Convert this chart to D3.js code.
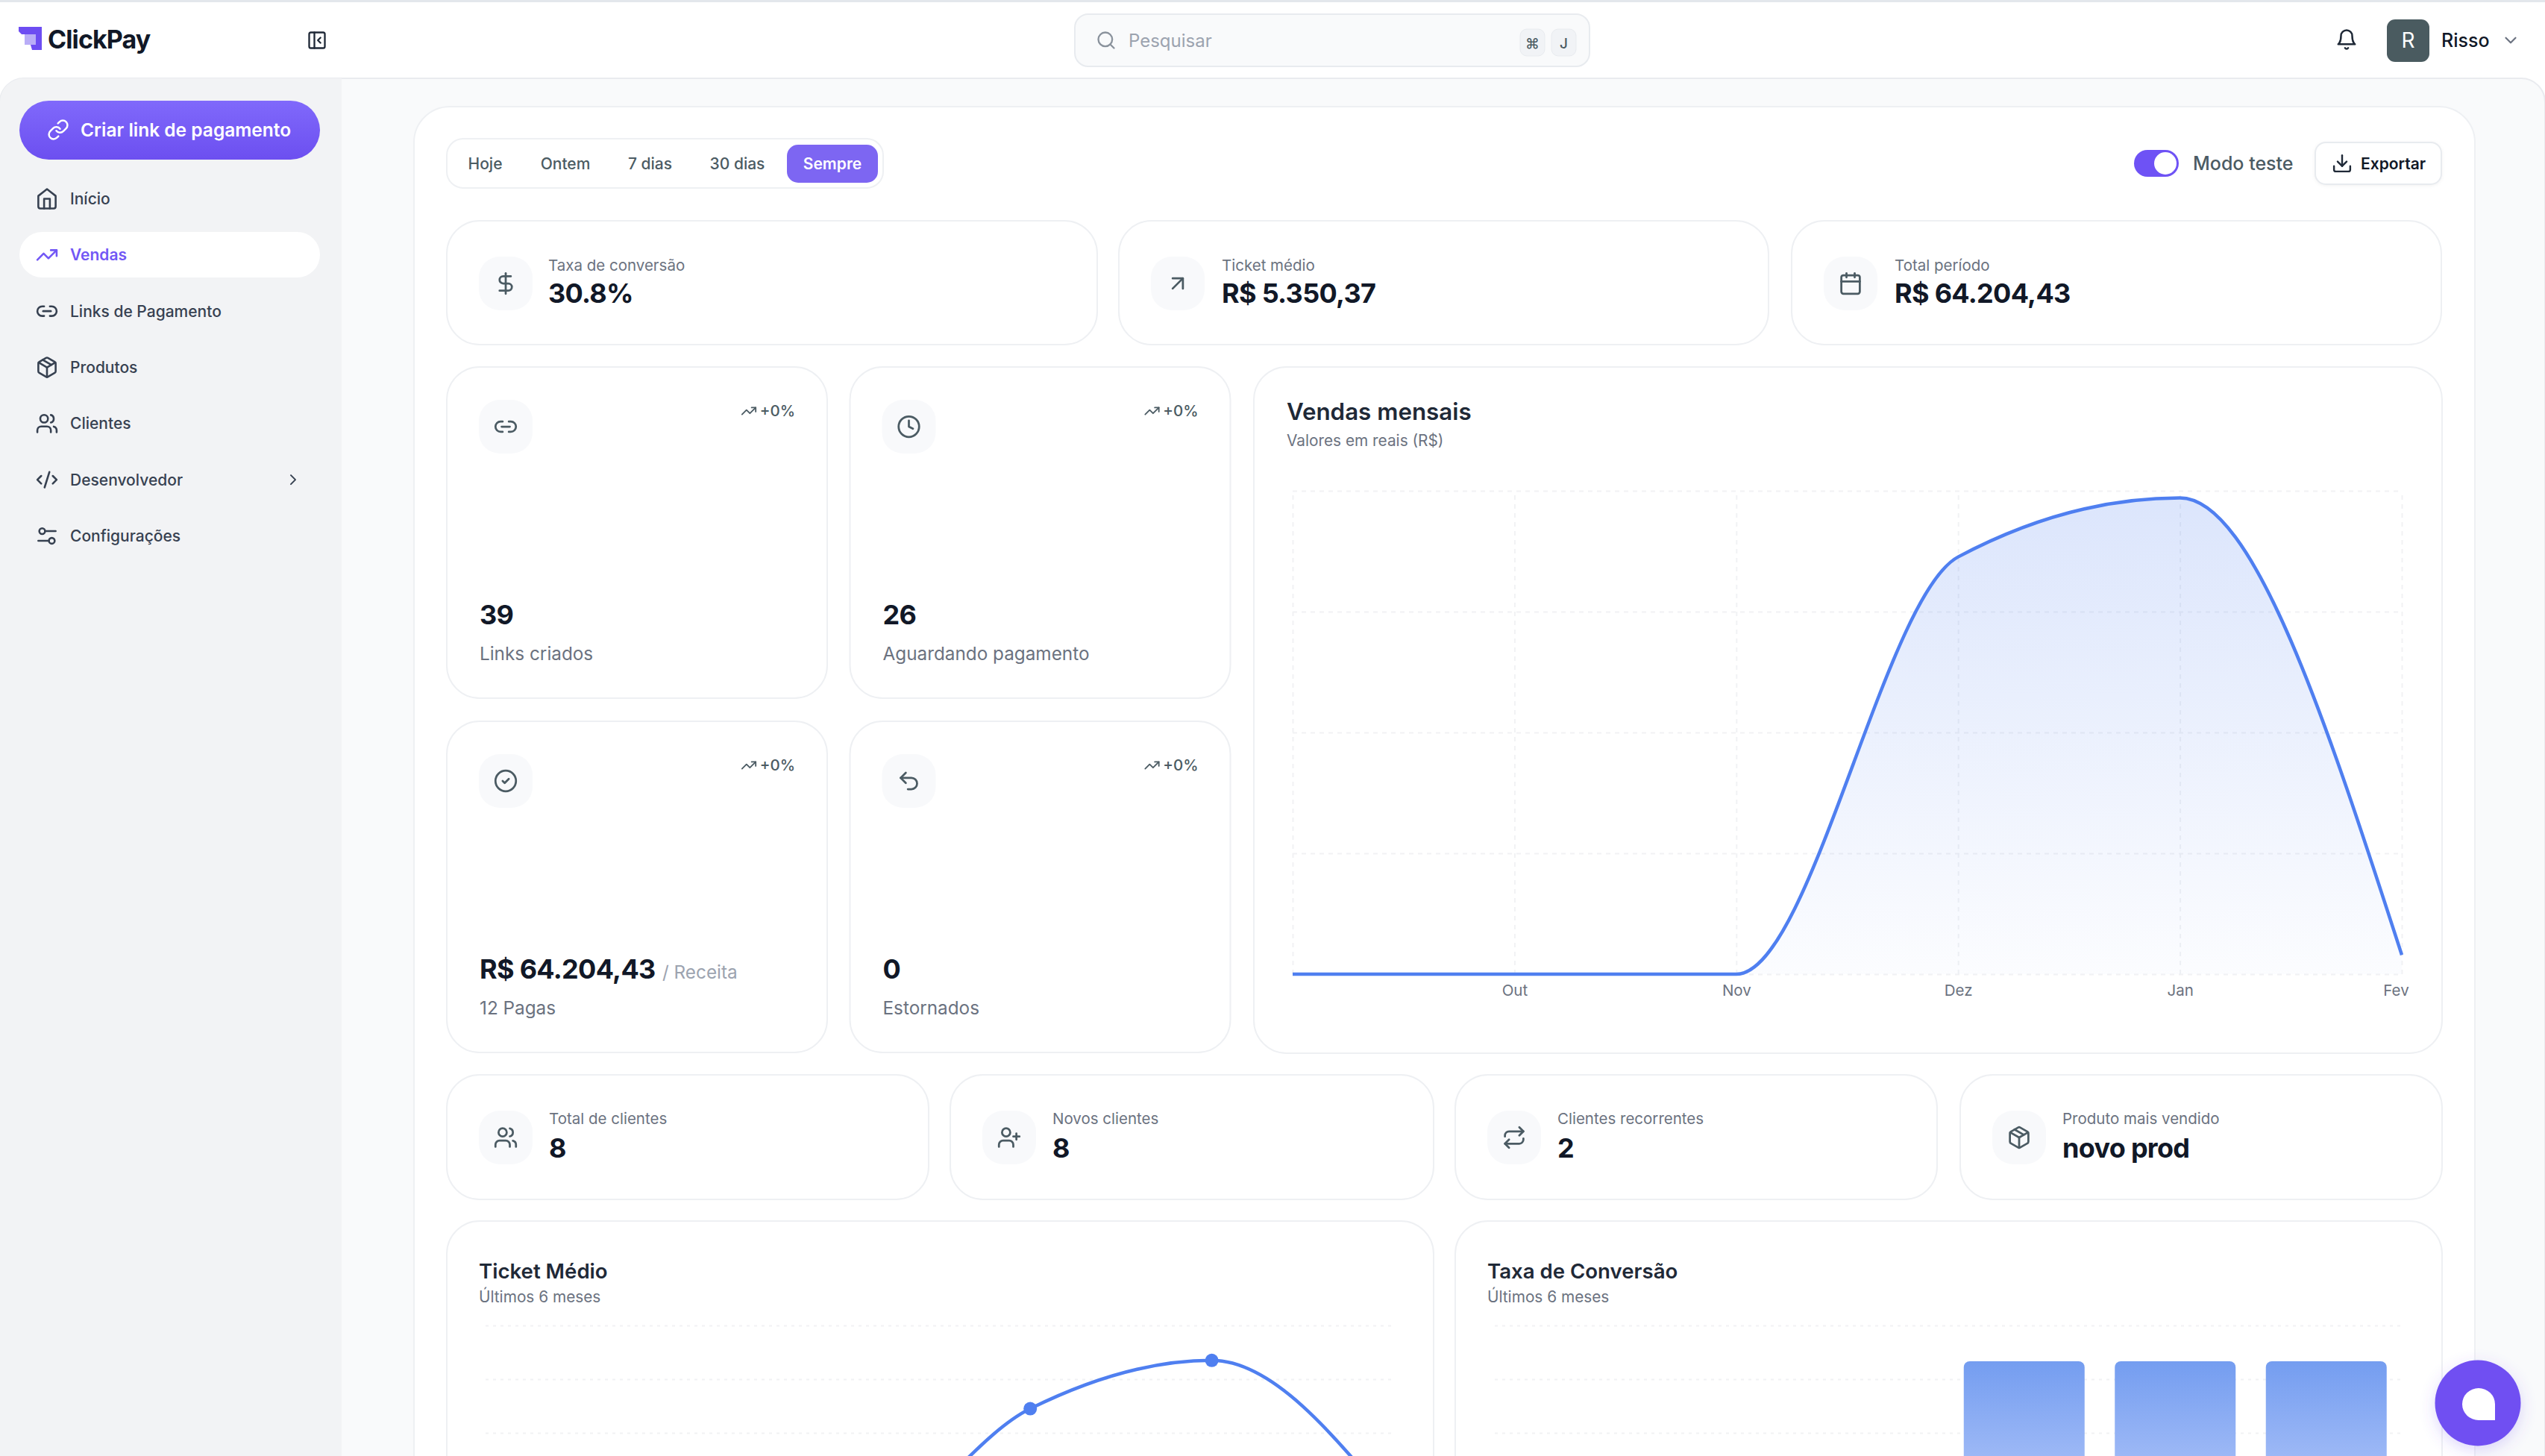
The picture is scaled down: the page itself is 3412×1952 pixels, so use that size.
<!DOCTYPE html>
<html lang="pt-BR">
<head>
<meta charset="UTF-8">
<title>ClickPay - Vendas</title>
<script src="https://d3js.org/d3.v7.min.js"></script>
<style>
  html, body { margin: 0; padding: 0; background: #fff; overflow: hidden; }
  svg { display: block; font-family: Inter, "Noto Sans", sans-serif; }
</style>
</head>
<body>
<svg id="page" width="3412" height="1952"></svg>
<script>
// chart data
const months = ["Set", "Out", "Nov", "Dez", "Jan", "Fev"];
const salesValues = [0, 0, 0, 29350, 33500, 1354];
const salesTicks = [0, 8500, 17000, 25500, 34000];
const ticketValues = [0, 0, 0, 4900, 6700, 1250];
const ticketTicks = [0, 2000, 4000, 6000, 8000];
const conversionValues = [0, 0, 0, 100, 100, 100];
const conversionTicks = [0, 30, 60, 90, 120];

// page text
const navLabels = ["Início", "Vendas", "Links de Pagamento", "Produtos", "Clientes", "Desenvolvedor", "Configurações"];
const navIcons = ["home", "trend", "link2", "box", "users", "code", "sliders"];
const periodLabels = ["Hoje", "Ontem", "7 dias", "30 dias", "Sempre"];
const summaryLabels = ["Taxa de conversão", "Ticket médio", "Total período"];
const summaryValues = ["30.8%", "R$ 5.350,37", "R$ 64.204,43"];
const summaryIcons = ["dollar", "arrow", "calendar"];
const statValues = ["39", "26", "R$ 64.204,43", "0"];
const statLabels = ["Links criados", "Aguardando pagamento", "12 Pagas", "Estornados"];
const statIcons = ["link2", "clock", "check", "undo"];
const clientLabels = ["Total de clientes", "Novos clientes", "Clientes recorrentes", "Produto mais vendido"];
const clientValues = ["8", "8", "2", "novo prod"];
const clientIcons = ["users", "userPlus", "repeat", "box"];

const iconPaths = {
  home: ["M3 9l9-7 9 7v11a2 2 0 0 1-2 2H5a2 2 0 0 1-2-2z", "M9 22V12h6v10"],
  trend: ["M22 7 13.5 15.5 8.5 10.5 2 17", "M16 7h6v6"],
  link: ["M10 13a5 5 0 0 0 7.54.54l3-3a5 5 0 0 0-7.07-7.07l-1.72 1.71", "M14 11a5 5 0 0 0-7.54-.54l-3 3a5 5 0 0 0 7.07 7.07l1.71-1.71"],
  link2: ["M9 17H7A5 5 0 0 1 7 7h2", "M15 7h2a5 5 0 1 1 0 10h-2", "M8 12h8"],
  box: ["M16.5 9.4 7.5 4.21", "M21 16V8a2 2 0 0 0-1-1.73l-7-4a2 2 0 0 0-2 0l-7 4A2 2 0 0 0 3 8v8a2 2 0 0 0 1 1.73l7 4a2 2 0 0 0 2 0l7-4A2 2 0 0 0 21 16z", "M3.27 6.96 12 12.01l8.73-5.05", "M12 22.08V12"],
  users: ["M16 21v-2a4 4 0 0 0-4-4H6a4 4 0 0 0-4 4v2", "M5 7a4 4 0 1 0 8 0a4 4 0 1 0-8 0", "M22 21v-2a4 4 0 0 0-3-3.87", "M16 3.13a4 4 0 0 1 0 7.75"],
  userPlus: ["M16 21v-2a4 4 0 0 0-4-4H6a4 4 0 0 0-4 4v2", "M5 7a4 4 0 1 0 8 0a4 4 0 1 0-8 0", "M19 8v6", "M22 11h-6"],
  code: ["M18 16l4-4-4-4", "M6 8l-4 4 4 4", "M14.5 4l-5 16"],
  sliders: ["M4 7a3 3 0 1 0 6 0a3 3 0 1 0-6 0", "M10 7h11", "M14 17a3 3 0 1 0 6 0a3 3 0 1 0-6 0", "M3 17h11"],
  dollar: ["M12 2v20", "M17 5H9.5a3.5 3.5 0 0 0 0 7h5a3.5 3.5 0 0 1 0 7H6"],
  arrow: ["M7 17 17 7", "M7 7h10v10"],
  calendar: ["M5 4h14a2 2 0 0 1 2 2v14a2 2 0 0 1-2 2H5a2 2 0 0 1-2-2V6a2 2 0 0 1 2-2z", "M16 2v4", "M8 2v4", "M3 10h18"],
  clock: ["M2 12a10 10 0 1 0 20 0a10 10 0 1 0-20 0", "M12 6v6l4 2"],
  check: ["M2 12a10 10 0 1 0 20 0a10 10 0 1 0-20 0", "M9 12l2 2 4-4"],
  undo: ["M9 14 4 9l5-5", "M4 9h10.5a5.5 5.5 0 0 1 0 11H11"],
  repeat: ["M17 2l4 4-4 4", "M3 11v-1a4 4 0 0 1 4-4h14", "M7 22l-4-4 4-4", "M21 13v1a4 4 0 0 1-4 4H3"],
  search: ["M3 11a8 8 0 1 0 16 0a8 8 0 1 0-16 0", "M21 21l-4.3-4.3"],
  bell: ["M6 8a6 6 0 0 1 12 0c0 7 3 9 3 9H3s3-2 3-9", "M10.3 21a1.94 1.94 0 0 0 3.4 0"],
  download: ["M21 15v4a2 2 0 0 1-2 2H5a2 2 0 0 1-2-2v-4", "M7 10l5 5 5-5", "M12 15V3"],
  panel: ["M5 3h14a2 2 0 0 1 2 2v14a2 2 0 0 1-2 2H5a2 2 0 0 1-2-2V5a2 2 0 0 1 2-2z", "M9 3v18", "M16 15l-3-3 3-3"],
  chevronRight: ["M9 18l6-6-6-6"],
  chevronDown: ["M6 9l6 6 6-6"]
};

const ink = "#111827", slate = "#4b5b63", grey = "#6b7280", navText = "#374151";
const purple = "#7257f5", lineBlue = "#4f7ff0", border = "#eef0f3", gridColor = "#f1f2f4";

const svg = d3.select("#page");
const defs = svg.append("defs");

function gradient(id, stops) {
  const g = defs.append("linearGradient").attr("id", id)
    .attr("x1", 0).attr("y1", 0).attr("x2", 0).attr("y2", 1);
  stops.forEach(s => g.append("stop").attr("offset", s[0]).attr("stop-color", s[1]).attr("stop-opacity", s[2]));
}
gradient("btnFill", [[0, "#8069fb", 1], [1, "#6c4ff0", 1]]);
gradient("areaFill", [[0, lineBlue, 0.2], [1, lineBlue, 0.02]]);
gradient("barFill", [[0, "#749df0", 1], [1, "#c0d0fb", 1]]);

const shadow = defs.append("filter").attr("id", "soft")
  .attr("x", "-40%").attr("y", "-40%").attr("width", "180%").attr("height", "180%");
shadow.append("feDropShadow").attr("dx", 0).attr("dy", 6).attr("stdDeviation", 10)
  .attr("flood-color", "#6c4ff0").attr("flood-opacity", 0.22);

function box(x, y, w, h, r, fill, stroke, sw) {
  return svg.append("rect").attr("x", x).attr("y", y).attr("width", w).attr("height", h)
    .attr("rx", r).attr("fill", fill).attr("stroke", stroke || "none").attr("stroke-width", sw || 0);
}

function text(x, y, str, size, weight, fill, anchor) {
  return svg.append("text").attr("x", x).attr("y", y).text(str)
    .attr("font-size", size).attr("font-weight", weight).attr("fill", fill)
    .attr("text-anchor", anchor || "start");
}

// y is the vertical centre of the line
function midText(x, y, str, size, weight, fill, anchor) {
  return text(x, y, str, size, weight, fill, anchor).attr("dy", "0.36em");
}

function bigValue(x, y, str) {
  return text(x, y, str, 36, 700, ink).attr("letter-spacing", -0.7);
}

function icon(name, cx, cy, size, color, sw) {
  const k = size / 24;
  const g = svg.append("g").attr("transform", `translate(${cx - size / 2},${cy - size / 2}) scale(${k})`)
    .attr("fill", "none").attr("stroke", color).attr("stroke-width", sw || 2)
    .attr("stroke-linecap", "round").attr("stroke-linejoin", "round");
  iconPaths[name].forEach(d => g.append("path").attr("d", d));
}

function tile(cx, cy, name) {
  box(cx - 36, cy - 36, 72, 72, 28, "#f8f9fb");
  icon(name, cx, cy, 33, slate, 2);
}

function card(x, y, w, h) {
  box(x, y, w, h, 44, "#fff", border, 2);
}

// backgrounds
box(0, 0, 3412, 2100, 0, "#fff");
box(0, 0, 3412, 3, 0, "#e3e7ec");
svg.append("path").attr("d", "M0 2100V137a32 32 0 0 1 32-32H3380a32 32 0 0 1 32 32V2100z")
  .attr("fill", "#f9fafb").attr("stroke", "#e9ebef").attr("stroke-width", 2);
svg.append("path").attr("d", "M0 2100V137a32 32 0 0 1 32-32H458V2100z").attr("fill", "#f2f3f5");

// header
svg.append("path").attr("d", "M25 36H56V67H43L41 60H33V46H29L25 42z").attr("fill", "#6d4df2");
svg.append("path").attr("d", "M33 46H48V60H33z").attr("fill", "#b9adf7");
text(64, 65, "ClickPay", 34, 700, ink).attr("letter-spacing", -0.9);
icon("panel", 425, 54, 28, "#1f2937", 2);

box(1441, 19, 690, 70, 18, "#f9fafb", "#e8ebef", 2);
icon("search", 1483, 54, 28, "#8a929c", 2);
midText(1513, 54, "Pesquisar", 24, 400, "#9ca3af");
box(2038, 39, 33, 36, 9, "#f1f3f6", "#e8ebef", 1);
midText(2054.5, 58, "⌘", 19, 500, slate, "middle");
box(2080, 39, 33, 36, 9, "#f1f3f6", "#e8ebef", 1);
midText(2096.5, 58, "J", 19, 500, slate, "middle");
icon("bell", 3146, 53, 30, "#1f2937", 2);
box(3200, 26, 57, 57, 11, "#4a5b60");
midText(3228.5, 54, "R", 28, 400, "#fff", "middle");
midText(3273, 54, "Risso", 25, 500, ink);
icon("chevronDown", 3366, 54, 26, grey, 2);

// sidebar
box(26, 135, 403, 79, 39.5, "url(#btnFill)");
icon("link", 78, 174, 30, "#fff", 2);
midText(108, 174, "Criar link de pagamento", 24.5, 600, "#fff");

const navScale = d3.scalePoint().domain(navLabels).range([266.5, 718.5]);
const activeNav = "Vendas";
box(26, 311, 403, 61, 30.5, "#fff");
navLabels.forEach((label, i) => {
  const y = navScale(label);
  const on = label === activeNav;
  icon(navIcons[i], 63, y, 31, on ? purple : navText, 2);
  midText(94, y, label, 21, on ? 600 : 500, on ? purple : navText);
});
icon("chevronRight", 393, navScale("Desenvolvedor"), 24, navText, 2);

// main panel
box(555, 143, 2763, 2000, 48, "#fff", border, 2);

// period filter
box(599, 186, 585, 66, 22, "#fff", border, 2);
box(1055, 194, 122, 51, 15, "#7d66f2");
const periodCenters = [650.5, 758, 871.5, 988.5, 1116];
periodLabels.forEach((label, i) => {
  const on = label === "Sempre";
  midText(periodCenters[i], 219.5, label, 21, on ? 600 : 500, on ? "#fff" : slate, "middle");
});

// toggle and export
box(2861, 201, 60, 36, 18, "#6e52f5");
svg.append("circle").attr("cx", 2903).attr("cy", 219).attr("r", 15).attr("fill", "#fff");
midText(2940, 219, "Modo teste", 25, 500, slate);
box(3104, 191, 169, 56, 14, "#fff", "#e8ebef", 2).style("filter", "drop-shadow(0 1px 2px rgba(0,0,0,.05))");
icon("download", 3140, 219, 29, "#1f2937", 2);
midText(3165, 219, "Exportar", 21, 600, ink);

// summary row
const summaryLeft = [599, 1500, 2402];
const summaryWidth = [872, 871, 871];
const summaryText = [735, 1638, 2540];
summaryLabels.forEach((label, i) => {
  const x = summaryLeft[i];
  card(x, 296, summaryWidth[i], 166);
  tile(x + 79, 380, summaryIcons[i]);
  midText(summaryText[i], 355.5, label, 20.5, 400, grey);
  bigValue(summaryText[i], 406, summaryValues[i]);
});

// four stat cards
const statLeft = [599, 1139.5, 599, 1139.5];
const statTop = [492, 492, 967, 967];
statValues.forEach((value, i) => {
  const x = statLeft[i], y = statTop[i];
  card(x, y, 510, 444);
  tile(x + 79, y + 80, statIcons[i]);
  icon("trend", x + 405, y + 59, 22, slate, 2);
  midText(x + 467, y + 59, "+0%", 20.5, 500, slate, "end");
  bigValue(x + 44, y + 345, value);
  midText(x + 44, y + 384, statLabels[i], 24.3, 400, grey);
});
midText(888, 1303, "/ Receita", 24.3, 400, "#9ca3af");

// clients row
const clientLeft = [599, 1274, 1951, 2628];
const clientWidth = [646, 648, 646, 646];
clientLabels.forEach((label, i) => {
  const x = clientLeft[i];
  card(x, 1441, clientWidth[i], 167);
  tile(x + 79, 1525, clientIcons[i]);
  midText(x + 137, 1500, label, 20.5, 400, grey);
  bigValue(x + 137, 1552, clientValues[i]);
});

// chart cards
function chartTitle(x, y, title, titleSize, sub, subY) {
  midText(x, y, title, titleSize, 600, "#1f2937");
  midText(x, subY, sub, 20.8, 400, grey);
}

function hGrid(g, yScale, ticks, x0, x1, dash) {
  g.append("g").attr("transform", `translate(${x0},0)`)
    .call(d3.axisLeft(yScale).tickValues(ticks).tickSize(-(x1 - x0)).tickFormat(""))
    .call(a => a.select(".domain").remove())
    .selectAll("line").attr("stroke", gridColor).attr("stroke-width", 2).attr("stroke-dasharray", dash);
}

// Vendas mensais
card(1681, 492, 1593, 920);
chartTitle(1725, 552, "Vendas mensais", 31.3, "Valores em reais (R$)", 591);

const salesX = d3.scalePoint().domain(months).range([1733, 3220]);
const salesY = d3.scaleLinear().domain([0, 34000]).range([1306, 658]);
const salesG = svg.append("g");

hGrid(salesG, salesY, salesTicks, 1733, 3220, "6 6");
salesG.append("g").attr("transform", "translate(0,1306)")
  .call(d3.axisBottom(salesX).tickSize(-(1306 - 658)).tickPadding(14)
    .tickFormat(m => m === "Set" ? "" : m))
  .call(a => a.select(".domain").remove())
  .call(a => a.selectAll("line").attr("stroke", gridColor).attr("stroke-width", 2).attr("stroke-dasharray", "6 6"))
  .call(a => a.selectAll("text").attr("font-size", 20.5).attr("font-family", "Inter").attr("fill", grey))
  .call(a => a.selectAll(".tick").filter(m => m === "Fev").select("text").attr("dx", -8));

const salesPoints = months.map((m, i) => ({ month: m, value: salesValues[i] }));
salesG.append("path").datum(salesPoints)
  .attr("fill", "url(#areaFill)")
  .attr("d", d3.area().curve(d3.curveMonotoneX).x(d => salesX(d.month)).y0(salesY(0)).y1(d => salesY(d.value)));
salesG.append("path").datum(salesPoints)
  .attr("fill", "none").attr("stroke", lineBlue).attr("stroke-width", 4.5)
  .attr("d", d3.line().curve(d3.curveMonotoneX).x(d => salesX(d.month)).y(d => salesY(d.value)));

// Ticket Médio
card(599, 1637, 1323, 500);
chartTitle(642, 1704, "Ticket Médio", 27.6, "Últimos 6 meses", 1739);

const ticketX = d3.scalePoint().domain(months).range([651, 1868]);
const ticketY = d3.scaleLinear().domain([0, 8000]).range([2065, 1777]);
const ticketG = svg.append("g");
hGrid(ticketG, ticketY, ticketTicks, 651, 1866, "4 6");

const ticketPoints = months.map((m, i) => ({ month: m, value: ticketValues[i] }));
ticketG.append("path").datum(ticketPoints)
  .attr("fill", "none").attr("stroke", lineBlue).attr("stroke-width", 4.5)
  .attr("d", d3.line().curve(d3.curveMonotoneX).x(d => ticketX(d.month)).y(d => ticketY(d.value)));
ticketG.selectAll("circle").data(ticketPoints).join("circle")
  .attr("cx", d => ticketX(d.month)).attr("cy", d => ticketY(d.value))
  .attr("r", 9).attr("fill", lineBlue);

// Taxa de Conversão
card(1951, 1637, 1323, 500);
chartTitle(1994, 1704, "Taxa de Conversão", 27.6, "Últimos 6 meses", 1739);

const conversionX = d3.scaleBand().domain(months).range([2005, 3220]).paddingInner(0.2).paddingOuter(0.1);
const conversionY = d3.scaleLinear().domain([0, 120]).range([2065, 1777]);
const conversionG = svg.append("g");
hGrid(conversionG, conversionY, conversionTicks, 2004, 3219, "4 6");

const conversionPoints = months.map((m, i) => ({ month: m, value: conversionValues[i] }));
conversionG.selectAll("rect").data(conversionPoints).join("rect")
  .attr("x", d => conversionX(d.month)).attr("width", conversionX.bandwidth())
  .attr("y", d => conversionY(d.value)).attr("height", d => conversionY(0) - conversionY(d.value))
  .attr("rx", 8).attr("fill", "url(#barFill)");

// chat button
svg.append("circle").attr("cx", 3322).attr("cy", 1881).attr("r", 57.5)
  .attr("fill", "#7050f2").attr("filter", "url(#soft)");
svg.append("path").attr("d", "M3323 1861a22 21.5 0 0 1 22 21.5V1904H3323a22 21.5 0 0 1 0-43z").attr("fill", "#fff");
</script>
</body>
</html>
